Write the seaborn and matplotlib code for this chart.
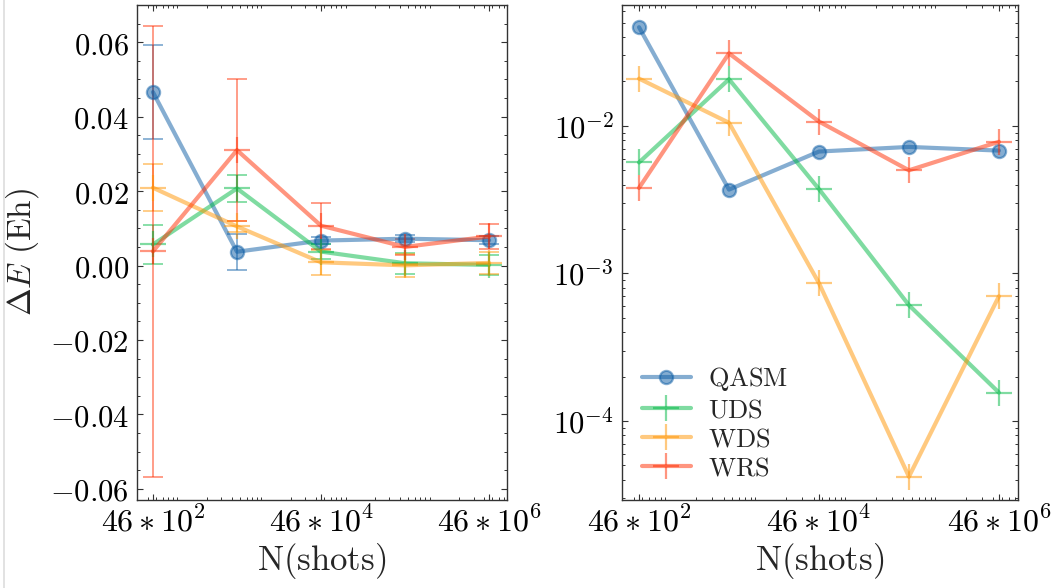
import numpy as np
import pandas as pd
import seaborn as sns
import matplotlib
matplotlib.use("Agg")
import matplotlib.pyplot as plt
from matplotlib.lines import Line2D
from matplotlib.ticker import FixedLocator, FixedFormatter, AutoMinorLocator, FuncFormatter, LogLocator, NullFormatter

# Number of shots per run
shots = [4600, 46000, 460000, 4600000, 46000000]
shot_ticks = [4600, 460000, 46000000]
shot_tick_labels = [r"$46\ast10^2$", r"$46\ast10^4$", r"$46\ast10^6$"]

# Energy error (Eh) and standard deviation per method
qasm = [0.0466, 0.0037, 0.0067, 0.0072, 0.0068]
qasm_err = [0.0126, 0.0049, 0.0010, 0.0010, 0.0010]
uds = [0.00565, 0.0207, 0.00373, 0.00061, 0.000156]
uds_err = [0.0052, 0.0036, 0.0020, 0.0028, 0.0028]
wds = [0.0209, 0.0105, 0.00086, 0.000042, 0.00070]
wds_err = [0.0063, 0.0015, 0.0033, 0.0030, 0.0030]
wrs = [0.0038, 0.0310, 0.0107, 0.0050, 0.0078]
wrs_err = [0.0605, 0.0190, 0.0062, 0.0021, 0.0034]

methods = ["QASM", "UDS", "WDS", "WRS"]
values = [qasm, uds, wds, wrs]
errors = [qasm_err, uds_err, wds_err, wrs_err]
colors = ["#0C5DA5", "#00B945", "#FF9500", "#FF2C00"]
markers = ["o", "+", "+", "+"]
msizes = [9.5, 19, 19, 19]

sns.set_theme(style="ticks")
plt.rcParams.update({
    "font.family": ["DejaVu Serif"],
    "mathtext.fontset": "cm",
    "xtick.direction": "in",
    "ytick.direction": "in",
    "xtick.top": True,
    "ytick.right": True,
    "xtick.minor.visible": True,
    "ytick.minor.visible": True,
    "xtick.major.size": 4.5,
    "ytick.major.size": 4.5,
    "xtick.minor.size": 2.3,
    "ytick.minor.size": 2.3,
    "xtick.major.width": 0.8,
    "ytick.major.width": 0.8,
    "xtick.minor.width": 0.7,
    "ytick.minor.width": 0.7,
    "axes.linewidth": 1.0,
    "axes.edgecolor": "#333333",
    "xtick.color": "#333333",
    "ytick.color": "#333333",
    "xtick.labelcolor": "black",
    "ytick.labelcolor": "black",
    "xtick.major.pad": 5,
    "ytick.major.pad": 6,
})

fig = plt.figure(figsize=(10.58, 5.88), dpi=100)
ax1 = fig.add_axes([0.1295, 0.1497, 0.3497, 0.8418])
ax2 = fig.add_axes([0.5879, 0.1497, 0.3743, 0.8418])

ALPHA = 0.5

for ax in (ax1, ax2):
    ax.set_xscale("log")
ax2.set_yscale("log")

# Left: linear energy error with error bars
for name, y, e, c in zip(methods, values, errors, colors):
    ax1.errorbar(shots, y, yerr=e, fmt="none", ecolor=c, elinewidth=1.3,
                 capsize=7, capthick=1.3, alpha=ALPHA)
for name, y, c, m, ms in zip(methods, values, colors, markers, msizes):
    sns.lineplot(x=shots, y=y, ax=ax1, color=c, lw=3.0, alpha=ALPHA,
                 marker=m, markersize=ms, markeredgecolor=c,
                 markerfacecolor=c, markeredgewidth=1.6, label=name,
                 legend=False)

# Right: log-scaled energy error
for name, y, c, m, ms in zip(methods, values, colors, markers, msizes):
    sns.lineplot(x=shots, y=y, ax=ax2, color=c, lw=3.0, alpha=ALPHA,
                 marker=m, markersize=ms, markeredgecolor=c,
                 markerfacecolor=c, markeredgewidth=1.6,
                 label=r"$\mathrm{%s}$" % name)

ax1.set_ylim(-0.063, 0.070)
ax1.yaxis.set_major_locator(FixedLocator([-0.06, -0.04, -0.02, 0.0, 0.02, 0.04, 0.06]))
ax1.yaxis.set_major_formatter(FuncFormatter(lambda v, p: r"$%.2f$" % v))
ax1.yaxis.set_minor_locator(AutoMinorLocator(4))

ax2.set_ylim(2.92e-5, 0.0659)
ax2.yaxis.set_major_locator(LogLocator(base=10, numticks=10))
ax2.yaxis.set_major_formatter(FuncFormatter(lambda v, p: r"$10^{%d}$" % round(np.log10(v))))
ax2.yaxis.set_minor_locator(LogLocator(base=10, subs=np.arange(2, 10), numticks=20))
ax2.yaxis.set_minor_formatter(NullFormatter())

for ax in (ax1, ax2):
    ax.set_xlim(2975, 7.5e7)
    ax.xaxis.set_major_locator(FixedLocator(shot_ticks))
    ax.xaxis.set_major_formatter(FixedFormatter(shot_tick_labels))
    ax.xaxis.set_minor_locator(LogLocator(base=10, subs=np.arange(2, 10), numticks=20))
    ax.xaxis.set_minor_formatter(NullFormatter())
    ax.tick_params(axis="x", which="both", labelsize=23)
    ax.tick_params(axis="y", which="both", labelsize=22)
    ax.set_xlabel(r"$\mathrm{N(shots)}$", fontsize=25, labelpad=2)
    for s in ax.spines.values():
        s.set_visible(True)

ax1.set_ylabel(r"$\Delta E\ \mathrm{(Eh)}$", fontsize=24, labelpad=6)
ax2.set_ylabel("")

leg = ax2.legend(loc="lower left", frameon=False, fontsize=19,
                 handlelength=1.85, handletextpad=0.65, labelspacing=0.15,
                 borderaxespad=0.35, bbox_to_anchor=(0.0, 0.0))

fig.add_artist(Line2D([0.004, 0.004], [0, 1], transform=fig.transFigure,
                      color="#dddddd", lw=1.2))

fig.savefig("out.png", dpi=100)
